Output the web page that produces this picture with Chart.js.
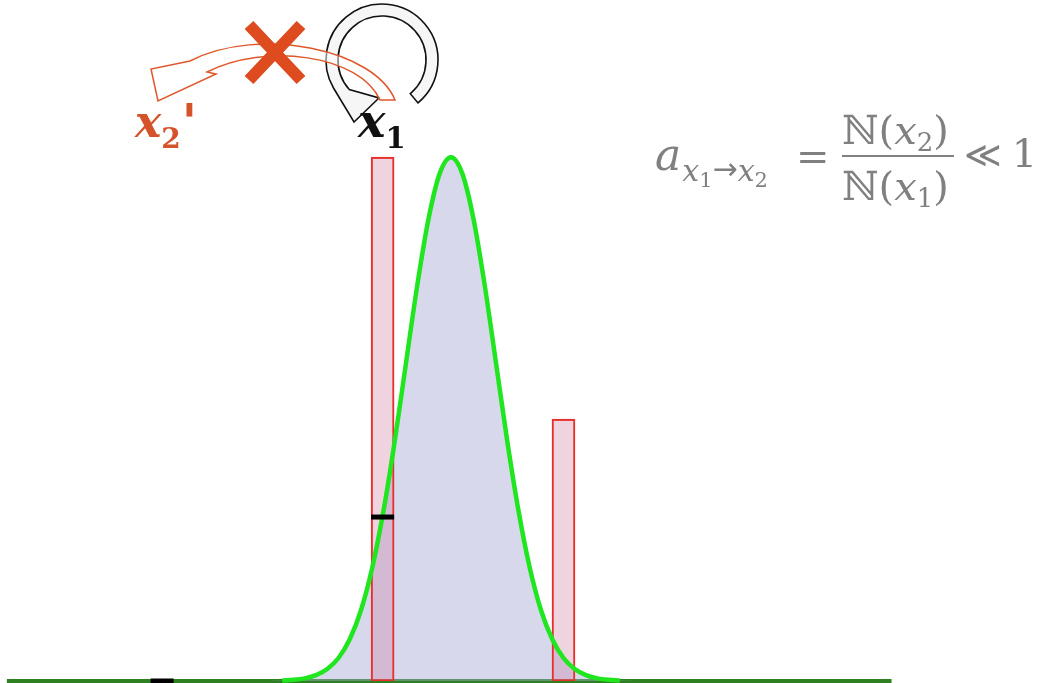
<!DOCTYPE html>
<html>
<head>
<meta charset="utf-8">
<script src="https://cdn.jsdelivr.net/npm/chart.js@4/dist/chart.umd.min.js"></script>
<style>
  html, body { margin: 0; padding: 0; background: #fff; }
  #chart { display: block; }
</style>
</head>
<body>
<canvas id="chart" width="1052" height="683"></canvas>
<script>
// values (x in units of sigma, y relative to the peak)
var curveX = [-4, -3.75, -3.5, -3.25, -3, -2.75, -2.5, -2.25, -2, -1.75, -1.5, -1.25, -1, -0.75, -0.5, -0.25,
              0, 0.25, 0.5, 0.75, 1, 1.25, 1.5, 1.75, 2, 2.25, 2.5, 2.75, 3, 3.25, 3.5, 3.75, 4];
var curveY = [0.0003, 0.0009, 0.0022, 0.0051, 0.0111, 0.0228, 0.0439, 0.0796, 0.135, 0.216, 0.325, 0.458, 0.607, 0.755, 0.882, 0.969,
              1, 0.969, 0.882, 0.755, 0.607, 0.458, 0.325, 0.216, 0.135, 0.0796, 0.0439, 0.0228, 0.0111, 0.0051, 0.0022, 0.0009, 0.0003];

// the two histogram bars
var barX = [-1.52, 2.5];
var barY = [1.0, 0.5];

// black dashes
var markX = [-1.52, -6.42];
var markY = [0.313, 0];

// green axis line
var baseX = [-9.87, 9.79];
var baseY = [0, 0];

function pts(xs, ys) {
    var out = [];
    for (var i = 0; i < xs.length; i++) out.push({ x: xs[i], y: ys[i] });
    return out;
}

// draws a run of text pieces one after the other
function drawRun(ctx, pieces, x, y) {
    var cx = x;
    pieces.forEach(function (p) {
        ctx.font = p.font;
        ctx.fillText(p.t, cx, y + (p.dy || 0));
        cx += ctx.measureText(p.t).width + (p.gap || 0);
    });
    return cx;
}

var annotations = {
    id: 'annotations',
    afterDraw: function (chart) {
        var ctx = chart.ctx;
        ctx.save();

        // black circular arrow (x1 -> x1)
        var cx = 382, cy = 60, rOut = 56, rIn = 44;
        var a0 = 50 * Math.PI / 180, a1 = 150 * Math.PI / 180, a1in = 138 * Math.PI / 180;
        ctx.beginPath();
        ctx.arc(cx, cy, rOut, a0, a1, true);
        ctx.lineTo(354, 122);
        ctx.lineTo(379, 98);
        ctx.lineTo(cx + rIn * Math.cos(a1in), cy + rIn * Math.sin(a1in));
        ctx.arc(cx, cy, rIn, a1in, a0, false);
        ctx.closePath();
        ctx.fillStyle = 'rgba(238,238,238,0.55)';
        ctx.fill();
        ctx.strokeStyle = '#111';
        ctx.lineWidth = 1.6;
        ctx.stroke();

        // orange curved arrow (x1 -> x2')
        ctx.beginPath();
        ctx.moveTo(395, 100);
        ctx.bezierCurveTo(375, 50, 260, 25, 190, 61);
        ctx.lineTo(151, 69);
        ctx.lineTo(158, 101);
        ctx.lineTo(216, 74);
        ctx.lineTo(207, 72);
        ctx.bezierCurveTo(265, 42, 360, 55, 380, 100);
        ctx.closePath();
        ctx.fillStyle = 'rgba(255,255,255,0.5)';
        ctx.fill();
        ctx.strokeStyle = '#e0572b';
        ctx.lineWidth = 1.5;
        ctx.stroke();

        // orange cross
        ctx.strokeStyle = '#dd4b1f';
        ctx.lineWidth = 12;
        ctx.lineCap = 'butt';
        ctx.beginPath();
        ctx.moveTo(249, 25); ctx.lineTo(301, 80);
        ctx.moveTo(301, 25); ctx.lineTo(249, 80);
        ctx.stroke();

        ctx.textBaseline = 'alphabetic';
        ctx.textAlign = 'left';

        // x2' label
        ctx.fillStyle = '#d4532a';
        drawRun(ctx, [
            { t: 'x', font: 'italic bold 44px "DejaVu Serif", serif' },
            { t: '2', font: 'bold 28px "DejaVu Serif", serif', dy: 11, gap: 1 },
            { t: "'", font: 'italic bold 50px "DejaVu Sans", sans-serif', dy: 2 }
        ], 135, 137);

        // x1 label
        ctx.fillStyle = '#111';
        drawRun(ctx, [
            { t: 'x', font: 'italic bold 46px "DejaVu Serif", serif' },
            { t: '1', font: 'bold 29px "DejaVu Serif", serif', dy: 11 }
        ], 358, 137);

        // acceptance formula
        ctx.fillStyle = '#808080';
        var big = '40px "DejaVu Serif", serif';
        var bigI = 'italic 40px "DejaVu Serif", serif';
        var small = 'italic 30px "DejaVu Serif", serif';
        var tiny = '21px "DejaVu Serif", serif';
        drawRun(ctx, [
            { t: 'a', font: 'italic 44px "DejaVu Serif", serif', gap: 1 },
            { t: 'x', font: small, dy: 11 },
            { t: '1', font: tiny, dy: 17 },
            { t: '\u2192', font: '30px "DejaVu Sans", sans-serif', dy: 9 },
            { t: 'x', font: small, dy: 11 },
            { t: '2', font: tiny, dy: 17 }
        ], 655, 170);
        drawRun(ctx, [{ t: '=', font: big }], 796, 170);
        drawRun(ctx, [
            { t: '\u2115(', font: big },
            { t: 'x', font: bigI },
            { t: '2', font: '26px "DejaVu Serif", serif', dy: 7 },
            { t: ')', font: big }
        ], 842, 144);
        ctx.fillRect(842, 155, 112, 2);
        drawRun(ctx, [
            { t: '\u2115(', font: big },
            { t: 'x', font: bigI },
            { t: '1', font: '26px "DejaVu Serif", serif', dy: 7 },
            { t: ')', font: big }
        ], 842, 200);
        drawRun(ctx, [
            { t: '\u226A', font: '36px "DejaVu Sans", sans-serif', gap: 10 },
            { t: '1', font: big }
        ], 964, 167);

        ctx.restore();
    }
};

var ctx = document.getElementById('chart').getContext('2d');
var chart = new Chart(ctx, {
    type: 'line',
    data: {
        datasets: [{
            // axis line, drawn first
            type: 'line',
            data: pts(baseX, baseY),
            borderColor: '#2f8020',
            borderWidth: 4,
            pointRadius: 0,
            clip: false,
            order: 6
        }, {
            // shaded area under the curve
            type: 'line',
            data: pts(curveX, curveY),
            fill: 'origin',
            backgroundColor: 'rgba(168,168,214,0.45)',
            borderWidth: 0,
            pointRadius: 0,
            cubicInterpolationMode: 'monotone',
            order: 5
        }, {
            type: 'bar',
            data: pts(barX, barY),
            backgroundColor: 'rgba(205,120,160,0.32)',
            borderColor: '#ea2e2a',
            borderWidth: 1.5,
            borderSkipped: false,
            barThickness: 23,
            grouped: false,
            order: 4
        }, {
            // the green density curve
            type: 'line',
            data: pts(curveX.slice(1, -1), curveY.slice(1, -1)),
            fill: false,
            borderColor: '#1fe61f',
            borderWidth: 4.5,
            pointRadius: 0,
            cubicInterpolationMode: 'monotone',
            clip: false,
            order: 3
        }, {
            type: 'line',
            data: pts(markX, markY),
            showLine: false,
            pointStyle: 'line',
            pointRadius: 11.5,
            pointHoverRadius: 11.5,
            pointBorderWidth: 5,
            pointBorderColor: '#000',
            borderColor: '#000',
            clip: false,
            order: 1
        }]
    },
    options: {
        responsive: false,
        animation: false,
        devicePixelRatio: 1,
        layout: { autoPadding: false, padding: { left: 1, right: 151, top: 0, bottom: 2 } },
        plugins: { legend: { display: false }, tooltip: { enabled: false } },
        scales: {
            x: { type: 'linear', min: -10, max: 10, offset: false, display: false },
            y: { min: 0, max: 1.3, display: false }
        }
    },
    plugins: [annotations]
});
</script>
</body>
</html>
